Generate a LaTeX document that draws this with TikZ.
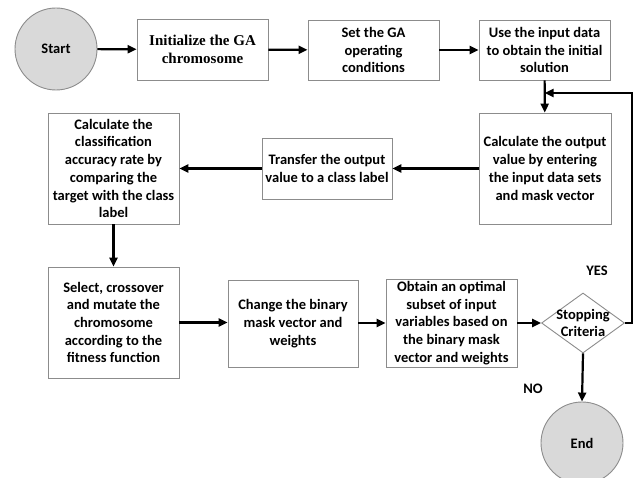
\documentclass[tikz,border=0pt]{standalone}
\usepackage{fontspec}
\setmainfont{Carlito}
\newfontfamily\timesfont{Liberation Serif}
\usetikzlibrary{shapes.geometric,arrows.meta}
\definecolor{boxline}{HTML}{8C8C8C}
\definecolor{termfill}{HTML}{D9D9D9}
\tikzset{
  base/.style={font=\fontsize{14.5}{17.7}\selectfont\bfseries, align=center},
  procbox/.style={base, draw=boxline, line width=0.9pt, fill=white, inner sep=0pt},
  terminal/.style={base, circle, draw=boxline, line width=0.9pt, fill=termfill, minimum size=82pt, inner sep=0pt},
  decision/.style={diamond, draw=boxline, line width=0.9pt, fill=white, minimum width=83pt, minimum height=60pt, inner sep=0pt},
  flow/.style={line width=2.2pt, -{Triangle[length=9pt,width=8pt]}},
  tag/.style={base}
}
\begin{document}
\begin{tikzpicture}[x=1pt,y=-1pt]
\useasboundingbox (0,0) rectangle (639,478);

% terminals
\node[terminal] (start) at (56,49) {Start};
\node[terminal] (end) at (582,443) {End};

% top row
\node[procbox, minimum width=131pt, minimum height=61pt, font=\timesfont\fontsize{15}{17.7}\selectfont\bfseries] (init) at (202.5,49.5) {Initialize the GA\\chromosome};
\node[procbox, minimum width=131pt, minimum height=60pt] (set) at (373.5,50) {Set the GA\\operating\\conditions};
\node[procbox, minimum width=131pt, minimum height=60pt] (use) at (544.5,50) {Use the input data\\to obtain the initial\\solution};

% middle row
\node[procbox, minimum width=132pt, minimum height=111pt] (calcout) at (545,168.5) {Calculate the output\\value by entering\\the input data sets\\and mask vector};
\node[procbox, minimum width=130pt, minimum height=61pt] (transfer) at (327,168.5) {Transfer the output\\value to a class label};
\node[procbox, minimum width=131pt, minimum height=111pt] (calcacc) at (113.5,168.5) {Calculate the\\classification\\accuracy rate by\\comparing the\\target with the class\\label};

% bottom row
\node[procbox, minimum width=131pt, minimum height=111pt] (select) at (113.5,322.5) {Select, crossover\\and mutate the\\chromosome\\according to the\\fitness function};
\node[procbox, minimum width=130pt, minimum height=87pt] (change) at (293,323.5) {Change the binary\\mask vector and\\weights};
\node[procbox, minimum width=131pt, minimum height=88pt] (obtain) at (451.5,323) {Obtain an optimal\\subset of input\\variables based on\\the binary mask\\vector and weights};

% decision
\node[decision] (stop) at (583,323) {};
\node[base] (stoptext) at (stop.center) {Stopping\\Criteria};

% branch labels
\node[tag] (yes) at (597,271) {YES};
\node[tag] (no) at (533,389) {NO};

% connectors
\draw[flow] (start) -- (init);
\draw[flow] (init) -- (set);
\draw[flow] (set) -- (use);
\draw[flow] (use) -- (calcout);
\draw[flow] (calcout) -- (transfer);
\draw[flow] (transfer) -- (calcacc);
\draw[flow] (calcacc) -- (select);
\draw[flow] (select.east) -- (change.west |- select.east);
\draw[flow] (change.east |- obtain.west) -- (obtain.west);
\draw[flow] (obtain) -- (stop);
\draw[flow] (stop.south) -- (end.north);

% loop back when the criterion is not yet met
\coordinate (loopright) at (632,323);
\coordinate (looptop) at (632,93);
\draw[flow] (stop.east) -- (loopright) -- (looptop) -- (use.south |- looptop);
\end{tikzpicture}
\end{document}
